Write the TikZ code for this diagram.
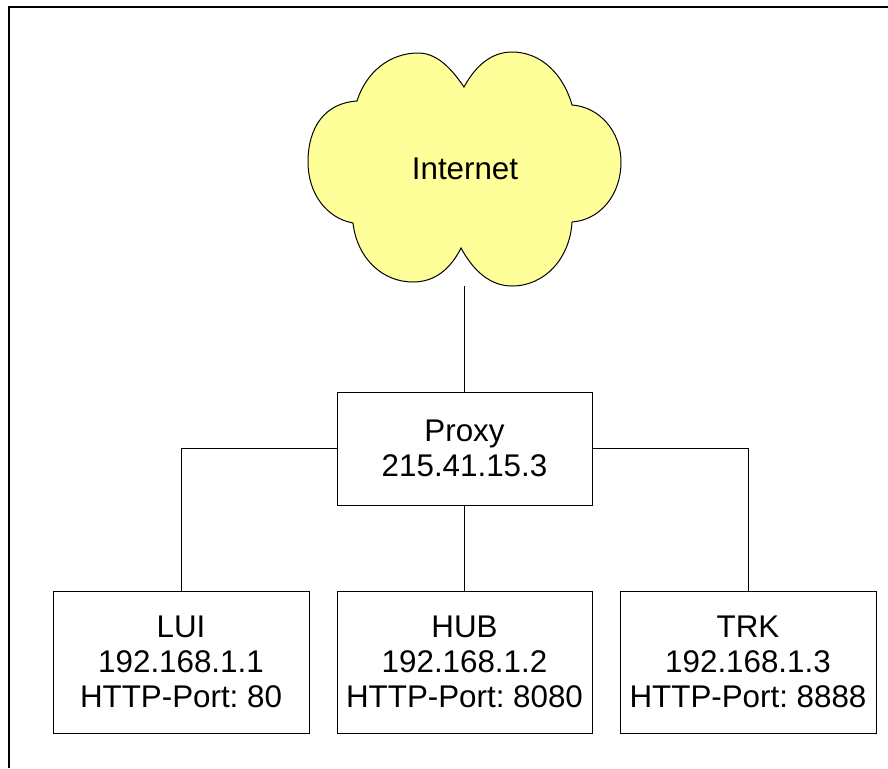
\documentclass[tikz,border=0pt]{standalone}
\usepackage{fontspec}
\setmainfont{Liberation Sans}
\frenchspacing
\definecolor{cloudyellow}{RGB}{255,255,153}
\tikzset{
  hostbox/.style={draw,line width=.75pt,fill=white,inner sep=0pt,align=center,font=\fontsize{23.5}{26.4}\selectfont},
  wire/.style={line width=.75pt},
}
\begin{document}
\begin{tikzpicture}[x=.75pt,y=-.75pt]
      \useasboundingbox(0,0)rectangle(888,768);
      \draw[line width=1.5pt](9,768)--(9,7)--(888,7); % frame
      \draw[wire,fill=cloudyellow](464,87)
        ..controls(449,65)and(435,53)..(418,53)
        ..controls(390,53)and(366,72)..(357,101)
        ..controls(325,103)and(308,127)..(308,162)
        ..controls(308,193)and(326,218)..(353,223)
        ..controls(357,258)and(382,282)..(413,282)
        ..controls(434,282)and(450,270)..(461,248)
        ..controls(474,272)and(491,286)..(512,286)
        ..controls(545,286)and(570,258)..(572,222)
        ..controls(600,220)and(621,195)..(621,162)
        ..controls(621,132)and(600,107)..(572,105)
        ..controls(563,73)and(540,52)..(512,52)
        ..controls(492,52)and(476,65)..(464,87)--cycle; % cloud
      \node[font=\fontsize{23.5}{26.4}\selectfont](internet)at(465,169){Internet};
      \coordinate(uplink)at(464.5,286);
      \node[hostbox,minimum width=191.25pt,minimum height=84.75pt](proxy)at(464.5,448.5){Proxy\\215.41.15.3};
      \node[hostbox,minimum width=192pt,minimum height=106.5pt](lui)at(181,662){LUI\\192.168.1.1\\HTTP-Port: 80};
      \node[hostbox,minimum width=191.25pt,minimum height=106.5pt](hub)at(464.5,662){HUB\\192.168.1.2\\HTTP-Port: 8080};
      \node[hostbox,minimum width=192pt,minimum height=106.5pt](trk)at(748,662){TRK\\192.168.1.3\\HTTP-Port: 8888};
      \draw[wire](uplink)--(proxy);
      \draw[wire](proxy)-|(lui);
      \draw[wire](proxy)--(hub);
      \draw[wire](proxy)-|(trk);
    \end{tikzpicture}
\end{document}
